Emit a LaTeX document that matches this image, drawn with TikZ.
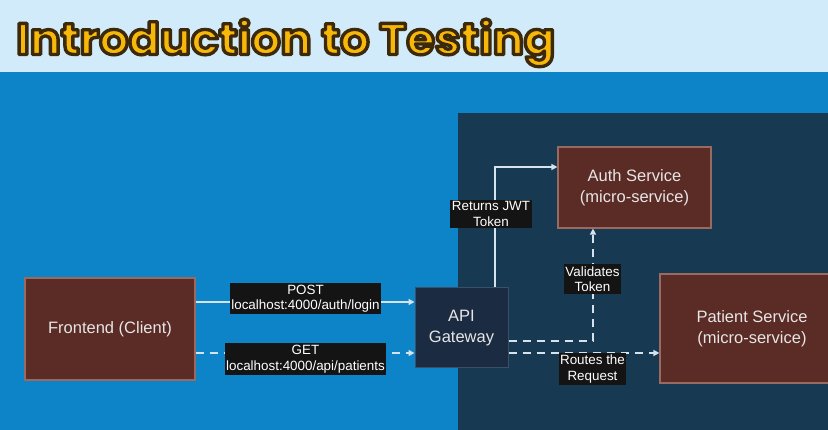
\documentclass[tikz,border=0pt]{standalone}
\usepackage{fontspec}
\setmainfont{Liberation Sans}
\newfontfamily\titlefont{Poppins}
\usetikzlibrary{arrows.meta}
\definecolor{bandbg}{HTML}{D2EBFA}
\definecolor{bluebg}{HTML}{0E84C8}
\definecolor{panelbg}{HTML}{173A52}
\definecolor{brownbox}{HTML}{5B2B25}
\definecolor{brownedge}{HTML}{9A6A60}
\definecolor{navybox}{HTML}{1B2B42}
\definecolor{navyedge}{HTML}{3A5068}
\definecolor{linec}{HTML}{D5E3EE}
\definecolor{titlefill}{HTML}{F7B80A}
\definecolor{boxtext}{HTML}{E6E6E6}
\newcommand{\outlinedtext}[1]{\special{pdf:literal direct 0.23 0.16 0.04 RG 3.6 w 1 j 2 Tr}#1\special{pdf:literal direct 0 Tr}}
\begin{document}
\begin{tikzpicture}[x=1pt,y=-1pt,
  svc/.style={draw=brownedge, line width=1.2pt, fill=brownbox, text=boxtext, align=center, inner sep=0pt, font=\fontsize{16.5}{21.5}\selectfont},
  gw/.style={draw=navyedge, line width=1pt, fill=navybox, text=boxtext, align=center, inner sep=0pt, font=\fontsize{16.5}{21.5}\selectfont},
  lbl/.style={fill=black!92, text=white, align=center, inner xsep=1.5pt, inner ysep=2pt, font=\fontsize{13.4}{15.5}\selectfont},
  flow/.style={draw=linec, line width=1.4pt, -{Triangle[length=6pt,width=6pt]}},
  flowd/.style={flow, dash pattern=on 8pt off 6pt},
  ttl/.style={anchor=base west, inner sep=0pt}]
\useasboundingbox (0,0) rectangle (828,430);
\fill[bandbg] (0,0) rectangle (828,72);
\fill[bluebg] (0,72) rectangle (828,430);
\fill[panelbg] (458,113) rectangle (828,430);
% title
\node[ttl, text=titlefill] (title) at (16,54.5) {\resizebox{539pt}{35.5pt}{\titlefont\fontsize{48}{48}\selectfont\bfseries\outlinedtext{Introduction to Testing}}};
% nodes
\node[svc, minimum width=170pt, minimum height=102pt] (fe) at (110,329) {Frontend (Client)};
\node[gw, minimum width=93pt, minimum height=80pt] (api) at (461.5,328) {API\\Gateway};
\node[svc, minimum width=153pt, minimum height=81pt] (auth) at (634.5,187.5) {Auth Service\\(micro-service)};
\node[svc, minimum width=172pt, minimum height=109pt] (pat) at (746,328.5) {\hspace*{12pt}Patient Service\\\hspace*{12pt}(micro-service)};
% connectors
\draw[flow] (fe.east |- 0,302) -- (api.west |- 0,302);
\draw[flowd] (fe.east |- 0,353) -- (api.west |- 0,353);
\draw[flow] (api.north -| 495,0) |- (auth.west |- 0,167);
\draw[flowd] (api.east |- 0,341) -| (auth.south -| 593,0);
\draw[flowd] (api.east |- 0,353) -- (pat.west |- 0,353);
% labels
\node[lbl] (lpost) at (305.5,298.5) {POST\\localhost:4000/auth/login};
\node[lbl] (lget) at (305.5,359) {GET\\localhost:4000/api/patients};
\node[lbl] (ljwt) at (491,214) {Returns JWT\\Token};
\node[lbl] (lval) at (592.5,279) {Validates\\Token};
\node[lbl] (lroute) at (592.5,369) {Routes the\\Request};
\end{tikzpicture}
\end{document}
